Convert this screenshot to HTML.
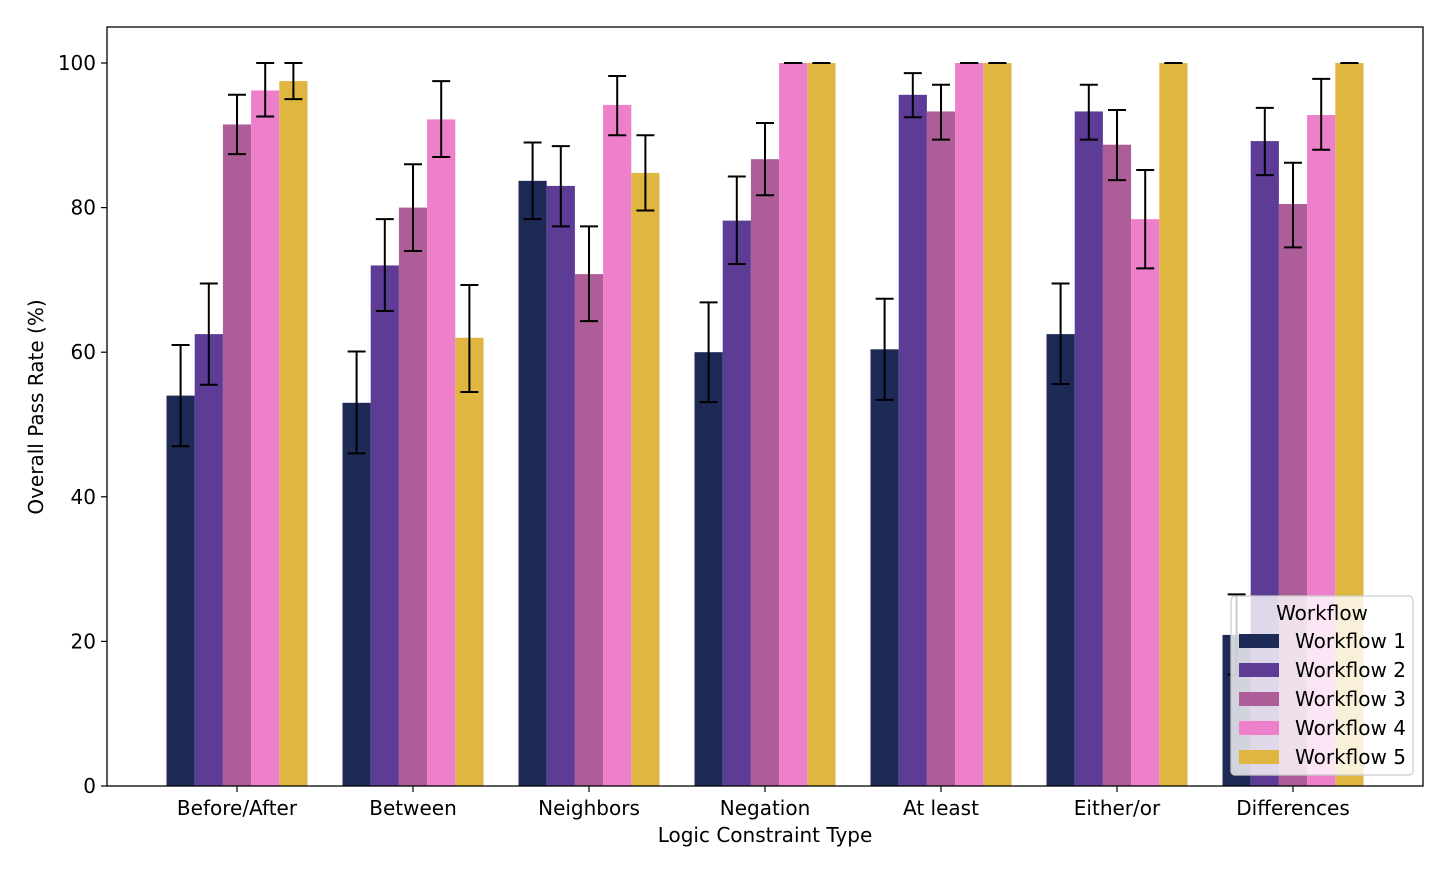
<!DOCTYPE html>
<html><head><meta charset="utf-8"><style>
body{margin:0;background:#fff;}
svg text{font-family:"DejaVu Sans","Liberation Sans",sans-serif;fill:#000;}
</style></head><body>
<svg id="chart" width="1450" height="874" xmlns="http://www.w3.org/2000/svg"></svg>
<script>
const categories=["Before/After","Between","Neighbors","Negation","At least","Either/or","Differences"];
const seriesNames=["Workflow 1","Workflow 2","Workflow 3","Workflow 4","Workflow 5"];
const colors=["#1d2a56","#5d3c96","#ad5e98","#ee7fcb","#deb640"];
const w1=[54.0,53.0,83.7,60.0,60.4,62.5,20.9];
const w2=[62.5,72.0,83.0,78.2,95.6,93.3,89.2];
const w3=[91.5,80.0,70.8,86.7,93.3,88.7,80.5];
const w4=[96.2,92.2,94.2,100,100,78.4,92.8];
const w5=[97.5,62.0,84.8,100,100,100,100];
const lo1=[47.0,46.0,78.4,53.1,53.4,55.6,15.4];
const hi1=[61.0,60.1,89.0,66.9,67.4,69.5,26.5];
const lo2=[55.5,65.7,77.4,72.2,92.5,89.4,84.5];
const hi2=[69.5,78.4,88.5,84.3,98.6,97.0,93.8];
const lo3=[87.4,74.0,64.3,81.7,89.4,83.8,74.5];
const hi3=[95.6,86.0,77.4,91.7,97.0,93.5,86.2];
const lo4=[92.6,87.0,90.0,100,100,71.6,88.0];
const hi4=[100,97.5,98.2,100,100,85.2,97.8];
const lo5=[95.0,54.5,79.6,100,100,100,100];
const hi5=[100,69.3,90.0,100,100,100,100];
const yTicks=[0,20,40,60,80,100];
const values=[w1,w2,w3,w4,w5], lows=[lo1,lo2,lo3,lo4,lo5], highs=[hi1,hi2,hi3,hi4,hi5];
const L=107,R=1423,T=27,B=786;
const y=v=>B-(v/100)*(B-63);
const xc=i=>237+i*176;
const bw=28.2;
const FS=20;
const svg=document.getElementById('chart');
const NS="http://www.w3.org/2000/svg";
function mk(t,a,p){const e=document.createElementNS(NS,t);for(const k in a)e.setAttribute(k,a[k]);(p||svg).appendChild(e);return e;}
const gBars=mk('g',{});


for(let s=0;s<5;s++){for(let i=0;i<categories.length;i++){
 const x0=xc(i)+(s-2.5)*bw;
 const r=mk('rect',{x:x0,y:y(values[s][i]),width:bw,height:B-y(values[s][i]),fill:colors[s]},gBars);
 
 
}}
const gErr=mk('g',{stroke:'#000','stroke-width':2});


for(let s=0;s<5;s++){for(let i=0;i<categories.length;i++){
 const cx=xc(i)+(s-2)*bw, a=y(lows[s][i]), b=y(highs[s][i]);
 mk('line',{x1:cx,x2:cx,y1:a,y2:b},gErr);
 mk('line',{x1:cx-9,x2:cx+9,y1:a,y2:a},gErr);
 mk('line',{x1:cx-9,x2:cx+9,y1:b,y2:b},gErr);
}}
const frame=mk('rect',{x:L,y:T,width:R-L,height:B-T,fill:'none',stroke:'#000','stroke-width':1.3});


yTicks.forEach(t=>{
 mk('line',{x1:L-6,x2:L,y1:y(t),y2:y(t),stroke:'#000','stroke-width':1.2});
 const tx=mk('text',{x:L-11,y:y(t)+7,'text-anchor':'end','font-size':FS});tx.textContent=t;
 
 
});
categories.forEach((c,i)=>{
 mk('line',{x1:xc(i),x2:xc(i),y1:B,y2:B+6,stroke:'#000','stroke-width':1.2});
 const tx=mk('text',{x:xc(i),y:B+29,'text-anchor':'middle','font-size':FS});tx.textContent=c;
 
 
});
const xt=mk('text',{x:765,y:842,'text-anchor':'middle','font-size':FS});xt.textContent='Logic Constraint Type';


const yt=mk('text',{x:43,y:407,'text-anchor':'middle','font-size':FS,transform:'rotate(-90 43 407)'});yt.textContent='Overall Pass Rate (%)';


const lg=mk('g',{});


mk('rect',{x:1231,y:596,width:182,height:179,rx:4,fill:'rgba(255,255,255,0.8)',stroke:'#ccc','stroke-width':1.2},lg);
const lt=mk('text',{x:1322,y:620,'text-anchor':'middle','font-size':FS},lg);lt.textContent='Workflow';


seriesNames.forEach((n,s)=>{
 const yy=641+s*29;
 const sw=mk('rect',{x:1239,y:yy-7,width:40,height:14,fill:colors[s]},lg);
 
 
 const t=mk('text',{x:1295,y:yy+7,'font-size':FS},lg);t.textContent=n;
 
 
});
</script>
</body></html>
